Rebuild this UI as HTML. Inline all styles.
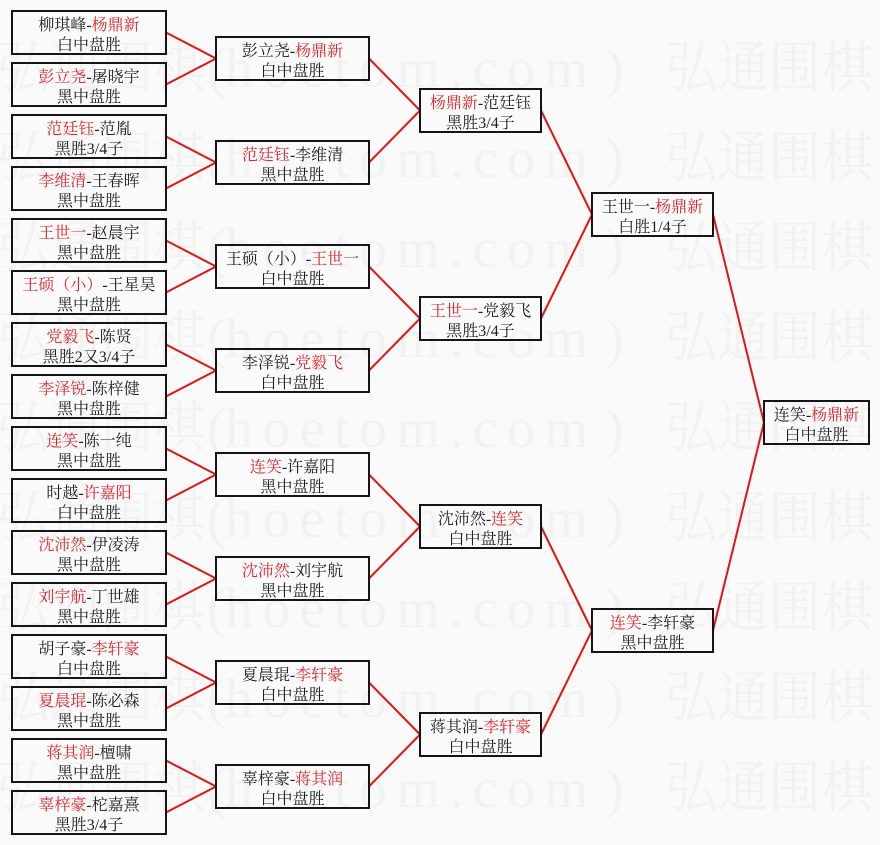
<!DOCTYPE html>
<html>
<head>
<meta charset="utf-8">
<style>
html,body{margin:0;padding:0;width:880px;height:845px;overflow:hidden;}
body{background:#fafafa;position:relative;
font-family:"Liberation Serif","Noto Serif CJK SC",serif;}
svg{position:absolute;left:0;top:0;display:block;}
.b{position:absolute;box-sizing:border-box;height:45px;border:2px solid #151515;
padding-top:4px;text-align:center;font-size:16px;line-height:20px;color:#1e1e1e;white-space:nowrap;overflow:hidden;}
.r{color:#e0242a;}
.c1{left:11px;width:156px;}
.c2{left:215px;width:155px;}
.c3{left:419px;width:123px;}
.c4{left:591px;width:123px;}
.c5{left:763px;width:107px;}
</style>
</head>
<body>
<svg width="880" height="845" viewBox="0 0 880 845">
<g fill="#f2f2f2" font-family="Liberation Serif, Noto Serif CJK SC, serif" font-size="56">
<text x="-3" y="87" textLength="208" lengthAdjust="spacingAndGlyphs">弘通围棋</text>
<text x="207" y="87">(</text><text x="225" y="87" textLength="363" lengthAdjust="spacing">hoetom.com</text><text x="605" y="87">)</text>
<text x="665" y="87" textLength="208" lengthAdjust="spacingAndGlyphs">弘通围棋</text>
<text x="-3" y="177" textLength="208" lengthAdjust="spacingAndGlyphs">弘通围棋</text>
<text x="207" y="177">(</text><text x="225" y="177" textLength="363" lengthAdjust="spacing">hoetom.com</text><text x="605" y="177">)</text>
<text x="665" y="177" textLength="208" lengthAdjust="spacingAndGlyphs">弘通围棋</text>
<text x="-3" y="267" textLength="208" lengthAdjust="spacingAndGlyphs">弘通围棋</text>
<text x="207" y="267">(</text><text x="225" y="267" textLength="363" lengthAdjust="spacing">hoetom.com</text><text x="605" y="267">)</text>
<text x="665" y="267" textLength="208" lengthAdjust="spacingAndGlyphs">弘通围棋</text>
<text x="-3" y="357" textLength="208" lengthAdjust="spacingAndGlyphs">弘通围棋</text>
<text x="207" y="357">(</text><text x="225" y="357" textLength="363" lengthAdjust="spacing">hoetom.com</text><text x="605" y="357">)</text>
<text x="665" y="357" textLength="208" lengthAdjust="spacingAndGlyphs">弘通围棋</text>
<text x="-3" y="447" textLength="208" lengthAdjust="spacingAndGlyphs">弘通围棋</text>
<text x="207" y="447">(</text><text x="225" y="447" textLength="363" lengthAdjust="spacing">hoetom.com</text><text x="605" y="447">)</text>
<text x="665" y="447" textLength="208" lengthAdjust="spacingAndGlyphs">弘通围棋</text>
<text x="-3" y="537" textLength="208" lengthAdjust="spacingAndGlyphs">弘通围棋</text>
<text x="207" y="537">(</text><text x="225" y="537" textLength="363" lengthAdjust="spacing">hoetom.com</text><text x="605" y="537">)</text>
<text x="665" y="537" textLength="208" lengthAdjust="spacingAndGlyphs">弘通围棋</text>
<text x="-3" y="627" textLength="208" lengthAdjust="spacingAndGlyphs">弘通围棋</text>
<text x="207" y="627">(</text><text x="225" y="627" textLength="363" lengthAdjust="spacing">hoetom.com</text><text x="605" y="627">)</text>
<text x="665" y="627" textLength="208" lengthAdjust="spacingAndGlyphs">弘通围棋</text>
<text x="-3" y="717" textLength="208" lengthAdjust="spacingAndGlyphs">弘通围棋</text>
<text x="207" y="717">(</text><text x="225" y="717" textLength="363" lengthAdjust="spacing">hoetom.com</text><text x="605" y="717">)</text>
<text x="665" y="717" textLength="208" lengthAdjust="spacingAndGlyphs">弘通围棋</text>
<text x="-3" y="807" textLength="208" lengthAdjust="spacingAndGlyphs">弘通围棋</text>
<text x="207" y="807">(</text><text x="225" y="807" textLength="363" lengthAdjust="spacing">hoetom.com</text><text x="605" y="807">)</text>
<text x="665" y="807" textLength="208" lengthAdjust="spacingAndGlyphs">弘通围棋</text>
</g>
<g stroke="#e31414" stroke-width="2" fill="none">
<line x1="166" y1="32.5" x2="216" y2="58.5"/><line x1="166" y1="84.5" x2="216" y2="58.5"/>
<line x1="166" y1="136.5" x2="216" y2="162.5"/><line x1="166" y1="188.5" x2="216" y2="162.5"/>
<line x1="166" y1="240.5" x2="216" y2="266.5"/><line x1="166" y1="292.5" x2="216" y2="266.5"/>
<line x1="166" y1="344.5" x2="216" y2="370.5"/><line x1="166" y1="396.5" x2="216" y2="370.5"/>
<line x1="166" y1="448.5" x2="216" y2="474.5"/><line x1="166" y1="500.5" x2="216" y2="474.5"/>
<line x1="166" y1="552.5" x2="216" y2="578.5"/><line x1="166" y1="604.5" x2="216" y2="578.5"/>
<line x1="166" y1="656.5" x2="216" y2="682.5"/><line x1="166" y1="708.5" x2="216" y2="682.5"/>
<line x1="166" y1="760.5" x2="216" y2="786.5"/><line x1="166" y1="812.5" x2="216" y2="786.5"/>
<line x1="369" y1="58.5" x2="420" y2="110.5"/><line x1="369" y1="162.5" x2="420" y2="110.5"/>
<line x1="369" y1="266.5" x2="420" y2="318.5"/><line x1="369" y1="370.5" x2="420" y2="318.5"/>
<line x1="369" y1="474.5" x2="420" y2="526.5"/><line x1="369" y1="578.5" x2="420" y2="526.5"/>
<line x1="369" y1="682.5" x2="420" y2="734.5"/><line x1="369" y1="786.5" x2="420" y2="734.5"/>
<line x1="541" y1="110.5" x2="592" y2="214.5"/><line x1="541" y1="318.5" x2="592" y2="214.5"/>
<line x1="541" y1="526.5" x2="592" y2="630.5"/><line x1="541" y1="734.5" x2="592" y2="630.5"/>
<line x1="713" y1="214.5" x2="764" y2="422.5"/><line x1="713" y1="630.5" x2="764" y2="422.5"/>
</g>
</svg>

<div class="b c1" style="top:10px">柳琪峰-<span class="r">杨鼎新</span><br>白中盘胜</div>
<div class="b c1" style="top:62px"><span class="r">彭立尧</span>-屠晓宇<br>黑中盘胜</div>
<div class="b c1" style="top:114px"><span class="r">范廷钰</span>-范胤<br>黑胜3/4子</div>
<div class="b c1" style="top:166px"><span class="r">李维清</span>-王春晖<br>黑中盘胜</div>
<div class="b c1" style="top:218px"><span class="r">王世一</span>-赵晨宇<br>黑中盘胜</div>
<div class="b c1" style="top:270px"><span class="r">王硕（小）</span>-王星昊<br>黑中盘胜</div>
<div class="b c1" style="top:322px"><span class="r">党毅飞</span>-陈贤<br>黑胜2又3/4子</div>
<div class="b c1" style="top:374px"><span class="r">李泽锐</span>-陈梓健<br>黑中盘胜</div>
<div class="b c1" style="top:426px"><span class="r">连笑</span>-陈一纯<br>黑中盘胜</div>
<div class="b c1" style="top:478px">时越-<span class="r">许嘉阳</span><br>白中盘胜</div>
<div class="b c1" style="top:530px"><span class="r">沈沛然</span>-伊凌涛<br>黑中盘胜</div>
<div class="b c1" style="top:582px"><span class="r">刘宇航</span>-丁世雄<br>黑中盘胜</div>
<div class="b c1" style="top:634px">胡子豪-<span class="r">李轩豪</span><br>白中盘胜</div>
<div class="b c1" style="top:686px"><span class="r">夏晨琨</span>-陈必森<br>黑中盘胜</div>
<div class="b c1" style="top:738px"><span class="r">蒋其润</span>-檀啸<br>黑中盘胜</div>
<div class="b c1" style="top:790px"><span class="r">辜梓豪</span>-柁嘉熹<br>黑胜3/4子</div>

<div class="b c2" style="top:36px">彭立尧-<span class="r">杨鼎新</span><br>白中盘胜</div>
<div class="b c2" style="top:140px"><span class="r">范廷钰</span>-李维清<br>黑中盘胜</div>
<div class="b c2" style="top:244px">王硕（小）-<span class="r">王世一</span><br>白中盘胜</div>
<div class="b c2" style="top:348px">李泽锐-<span class="r">党毅飞</span><br>白中盘胜</div>
<div class="b c2" style="top:452px"><span class="r">连笑</span>-许嘉阳<br>黑中盘胜</div>
<div class="b c2" style="top:556px"><span class="r">沈沛然</span>-刘宇航<br>黑中盘胜</div>
<div class="b c2" style="top:660px">夏晨琨-<span class="r">李轩豪</span><br>白中盘胜</div>
<div class="b c2" style="top:764px">辜梓豪-<span class="r">蒋其润</span><br>白中盘胜</div>

<div class="b c3" style="top:88px"><span class="r">杨鼎新</span>-范廷钰<br>黑胜3/4子</div>
<div class="b c3" style="top:296px"><span class="r">王世一</span>-党毅飞<br>黑胜3/4子</div>
<div class="b c3" style="top:504px">沈沛然-<span class="r">连笑</span><br>白中盘胜</div>
<div class="b c3" style="top:712px">蒋其润-<span class="r">李轩豪</span><br>白中盘胜</div>

<div class="b c4" style="top:192px">王世一-<span class="r">杨鼎新</span><br>白胜1/4子</div>
<div class="b c4" style="top:608px"><span class="r">连笑</span>-李轩豪<br>黑中盘胜</div>

<div class="b c5" style="top:400px">连笑-<span class="r">杨鼎新</span><br>白中盘胜</div>
</body>
</html>
